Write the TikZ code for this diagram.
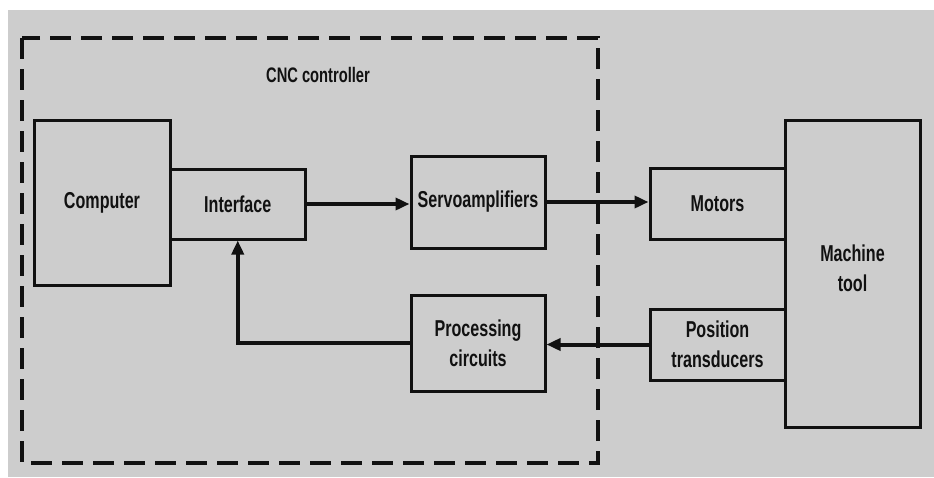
\documentclass[tikz,border=0pt]{standalone}
\usepackage{fontspec}
\setmainfont{Liberation Sans}[FakeStretch=0.70]
\usetikzlibrary{arrows.meta}
\definecolor{bg}{RGB}{205,205,205}
\definecolor{ink}{RGB}{17,17,17}
\tikzset{
  blktext/.style={align=center, text=ink, font=\bfseries\fontsize{23}{30}\selectfont},
  blk/.style={draw=ink, line width=3pt, inner sep=0pt, blktext},
  conn/.style={draw=ink, line width=4.5pt, -{Triangle[length=14pt,width=12pt]}},
  ctrlbox/.style={draw=ink, line width=3.5pt, dash pattern=on 21pt off 10pt}
}
\begin{document}
\begin{tikzpicture}[x=1pt,y=-1pt]
\useasboundingbox (0,0) rectangle (934,477);
\fill[white] (0,0) rectangle (934,477);
\fill[bg] (8,10) rectangle (934,477);
\draw[ctrlbox] (22,38) rectangle (598,463);
\node[text=ink, font=\bfseries\fontsize{21}{24}\selectfont] (cnc) at (318,75) {CNC controller};

\node[blk, minimum width=136pt, minimum height=165pt] (comp) at (102,202.5) {Computer};
\node[blk, minimum width=135.5pt, minimum height=70pt] (iface) at (237.75,204) {Interface};
\node[blk, minimum width=134pt, minimum height=92pt] (servo) at (478,202) {Servoamplifiers};
\node[blk, minimum width=134pt, minimum height=96pt] (proc) at (478,343) {Processing\\circuits};
\node[blk, minimum width=135pt, minimum height=307pt,
  label={[blktext, yshift=5pt]center:{Machine\\tool}}] (mach) at (852.5,273.5) {};
\node[blk, minimum width=135pt, minimum height=71pt] (motors) at (717.5,203.5) {Motors};
\node[blk, minimum width=135pt, minimum height=71pt] (pos) at (717.5,344.5) {Position\\transducers};

\draw[conn] (iface.east) -- (iface.east -| servo.west);
\draw[conn] (servo.east) -- (servo.east -| motors.west);
\draw[conn, line width=4pt] (pos.west) -- (pos.west -| proc.east);
\draw[conn, line width=4pt] (proc.west) -| (iface.south);
\end{tikzpicture}
\end{document}
